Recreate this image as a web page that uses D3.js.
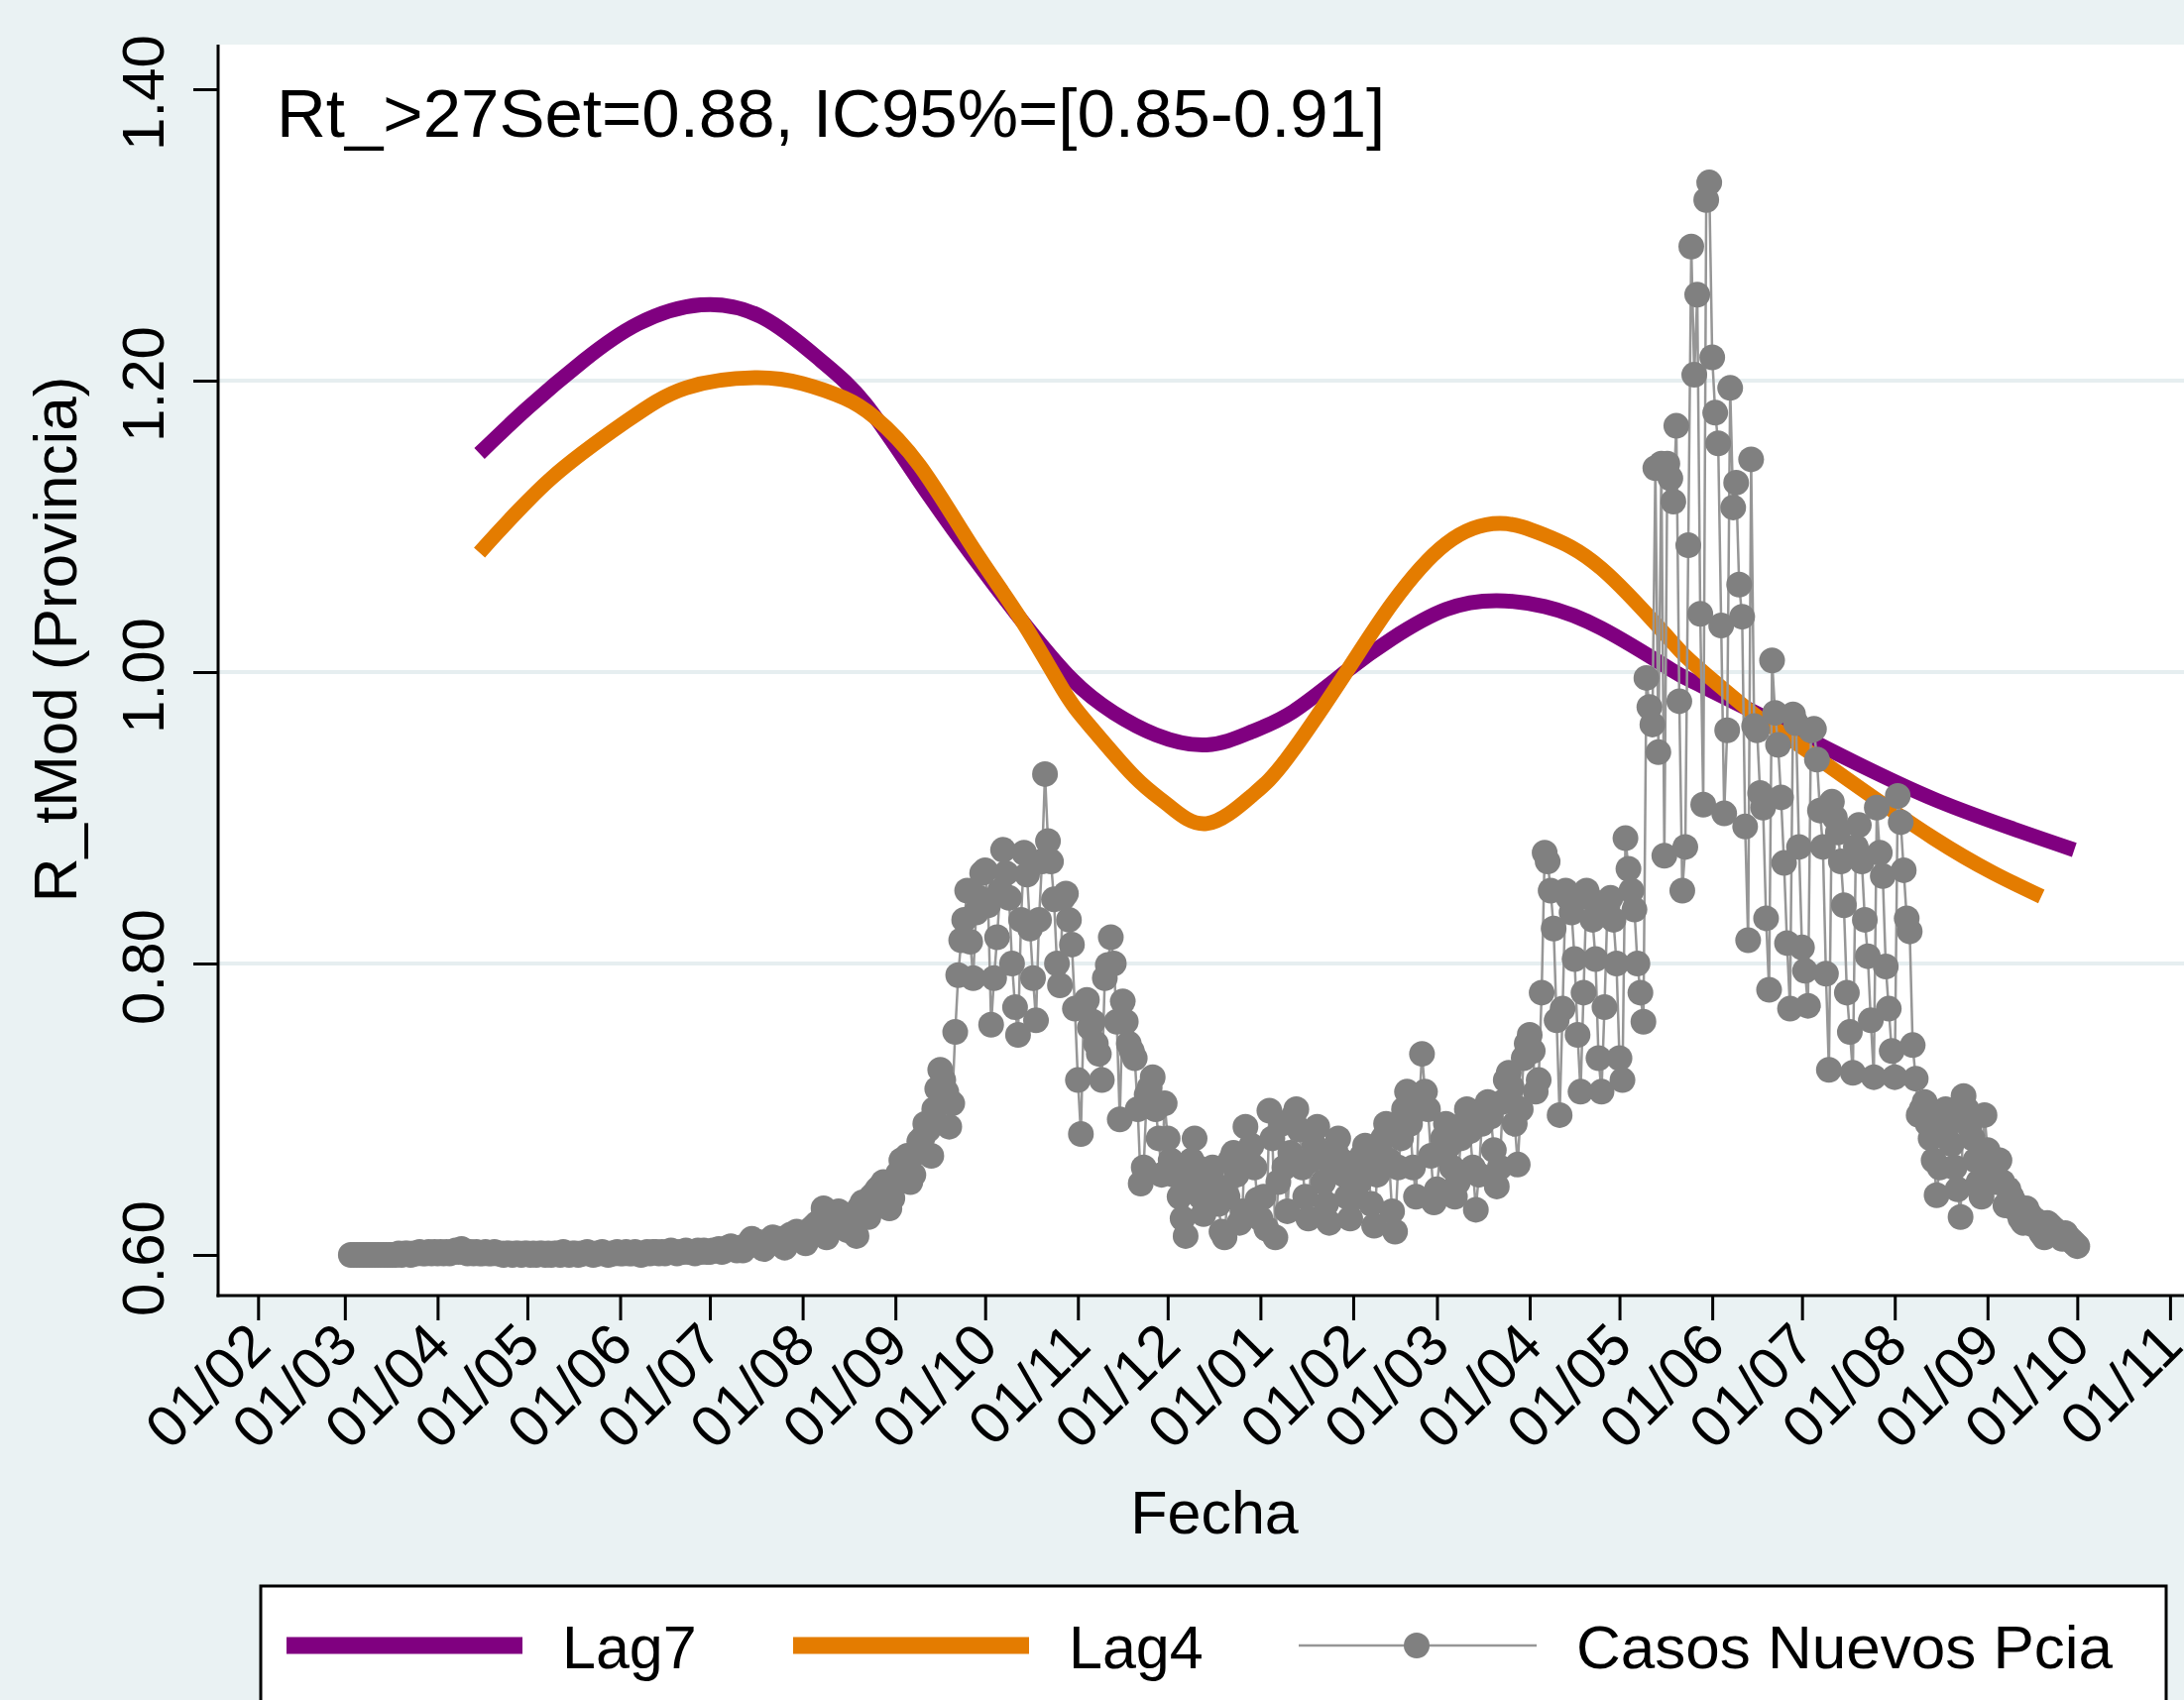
<!DOCTYPE html>
<html lang="es">
<head>
<meta charset="utf-8">
<title>Rt Provincia</title>
<script src="https://cdn.jsdelivr.net/npm/d3@7"></script>
<style>
  body { margin: 0; background: #eaf2f3; }
  text { font-family: "Liberation Sans", Arial, sans-serif; fill: #000; }
</style>
</head>
<body>
<script>
// ---------- datos ----------
var anotacion = "Rt_>27Set=0.88, IC95%=[0.85-0.91]";
var tituloY = "R_tMod (Provincia)";
var tituloX = "Fecha";
var leyenda = ["Lag7", "Lag4", "Casos Nuevos Pcia"];

var ticksY = [0.6, 0.8, 1.0, 1.2, 1.4];
var gridY = [0.8, 1.0, 1.2];
var ticksX = ["2020-02-01","2020-03-01","2020-04-01","2020-05-01","2020-06-01","2020-07-01",
              "2020-08-01","2020-09-01","2020-10-01","2020-11-01","2020-12-01","2021-01-01",
              "2021-02-01","2021-03-01","2021-04-01","2021-05-01","2021-06-01","2021-07-01",
              "2021-08-01","2021-09-01","2021-10-01","2021-11-01"];

var lag7Fechas = ["2020-04-15","2020-05-01","2020-05-20","2020-06-07","2020-06-28","2020-07-19",
                  "2020-08-07","2020-08-22","2020-09-09","2020-09-27","2020-10-13","2020-10-30",
                  "2020-11-13","2020-11-27","2020-12-14","2020-12-29","2021-01-12","2021-01-30",
                  "2021-02-14","2021-03-04","2021-03-21","2021-04-06","2021-04-25","2021-05-18",
                  "2021-05-29","2021-07-06","2021-08-15","2021-09-30"];
var lag7 = [1.150,1.181,1.214,1.239,1.252,1.243,
            1.214,1.184,1.131,1.079,1.036,0.995,
            0.972,0.957,0.950,0.959,0.973,1.001,
            1.023,1.043,1.049,1.045,1.030,1.002,
            0.990,0.951,0.912,0.878];

var lag4Fechas = ["2020-04-15","2020-05-09","2020-06-03","2020-06-23","2020-07-16","2020-08-01",
                  "2020-08-15","2020-08-25","2020-09-09","2020-09-27","2020-10-13","2020-10-27",
                  "2020-11-05","2020-11-20","2020-12-01","2020-12-14","2020-12-29","2021-01-10",
                  "2021-01-30","2021-02-14","2021-03-04","2021-03-22","2021-04-06","2021-04-25",
                  "2021-05-18","2021-05-29","2021-06-15","2021-06-30","2021-08-14","2021-09-19"];
var lag4 = [1.082,1.133,1.172,1.195,1.202,1.198,
            1.188,1.175,1.142,1.085,1.036,0.988,
            0.963,0.928,0.909,0.896,0.915,0.941,
            1.001,1.047,1.088,1.102,1.094,1.071,
            1.022,1.000,0.971,0.950,0.886,0.846];

// casos nuevos (reescalados al eje), un valor por dia desde la fecha de inicio de cada mes
var casosMar20 = [0.600,0.600,0.600,0.600,0.600,0.600,0.600,0.600,0.600,0.600,
                  0.600,0.600,0.600,0.600,0.600,0.600,0.601,0.600,0.601,0.601,
                  0.600,0.601,0.601,0.602,0.601,0.601,0.602,0.601,0.602];
var casosAbr20 = [0.601,0.602,0.601,0.602,0.601,0.602,0.603,0.602,0.604,0.602,
                  0.601,0.602,0.601,0.602,0.601,0.601,0.602,0.601,0.601,0.602,
                  0.601,0.601,0.600,0.601,0.601,0.600,0.601,0.601,0.600,0.601];
var casosMay20 = [0.601,0.600,0.601,0.600,0.601,0.601,0.600,0.601,0.600,0.601,
                  0.601,0.600,0.602,0.601,0.600,0.601,0.601,0.600,0.601,0.601,
                  0.602,0.601,0.600,0.601,0.601,0.602,0.601,0.600,0.601,0.601,0.602];
var casosJun20 = [0.601,0.601,0.602,0.601,0.601,0.602,0.601,0.600,0.601,0.602,
                  0.601,0.602,0.602,0.601,0.602,0.601,0.602,0.603,0.602,0.601,
                  0.602,0.602,0.603,0.602,0.602,0.601,0.603,0.602,0.603,0.602];
var casosJul20 = [0.602,0.603,0.603,0.604,0.602,0.603,0.605,0.606,0.604,0.603,
                  0.605,0.603,0.606,0.608,0.611,0.607,0.609,0.606,0.604,0.608,
                  0.610,0.612,0.609,0.611,0.607,0.605,0.610,0.614,0.612,0.616,0.612];
var casosAgo20 = [0.614,0.608,0.612,0.618,0.620,0.622,0.619,0.632,0.612,0.626,
                  0.624,0.628,0.630,0.626,0.622,0.617,0.624,0.628,0.613,0.632,
                  0.636,0.630,0.626,0.640,0.642,0.645,0.647,0.650,0.642,0.632,0.639];
var casosSep20 = [0.650,0.656,0.665,0.662,0.668,0.650,0.655,0.670,0.678,0.680,
                  0.690,0.686,0.668,0.700,0.714,0.727,0.720,0.712,0.688,0.704,
                  0.753,0.792,0.816,0.830,0.850,0.815,0.790,0.835,0.845,0.862];
var casosOct20 = [0.864,0.840,0.758,0.790,0.818,0.850,0.878,0.862,0.845,0.800,
                  0.770,0.751,0.830,0.876,0.861,0.824,0.790,0.761,0.830,0.870,
                  0.930,0.884,0.870,0.844,0.800,0.785,0.845,0.848,0.830,0.813,0.769];
var casosNov20 = [0.720,0.683,0.770,0.775,0.756,0.760,0.745,0.738,0.720,0.790,
                  0.799,0.818,0.800,0.760,0.693,0.774,0.760,0.745,0.740,0.735,
                  0.700,0.649,0.660,0.710,0.715,0.722,0.700,0.680,0.655,0.704];
var casosDic20 = [0.680,0.665,0.655,0.660,0.640,0.625,0.613,0.650,0.665,0.680,
                  0.660,0.640,0.628,0.645,0.655,0.660,0.648,0.635,0.616,0.612,
                  0.640,0.665,0.670,0.655,0.622,0.630,0.688,0.665,0.675,0.660,0.638];
var casosEne21 = [0.625,0.640,0.618,0.699,0.680,0.612,0.650,0.690,0.660,0.630,
                  0.670,0.695,0.700,0.686,0.660,0.640,0.625,0.665,0.675,0.688,
                  0.670,0.650,0.635,0.622,0.660,0.672,0.680,0.665,0.655,0.640,0.625];
var casosFeb21 = [0.660,0.640,0.650,0.668,0.675,0.660,0.635,0.620,0.655,0.670,
                  0.680,0.690,0.665,0.630,0.616,0.660,0.680,0.700,0.712,0.690,
                  0.660,0.640,0.700,0.738,0.712,0.700,0.668,0.636];
var casosMar21 = [0.645,0.670,0.680,0.690,0.675,0.660,0.640,0.650,0.680,0.690,
                  0.700,0.685,0.660,0.631,0.655,0.690,0.700,0.705,0.695,0.672,
                  0.647,0.660,0.705,0.720,0.725,0.715,0.690,0.662,0.700,0.735,0.745];
var casosAbr21 = [0.751,0.740,0.712,0.720,0.780,0.876,0.870,0.850,0.824,0.761,
                  0.696,0.769,0.850,0.845,0.835,0.803,0.751,0.712,0.780,0.850,
                  0.845,0.830,0.803,0.735,0.712,0.770,0.840,0.845,0.830,0.800];
var casosMay21 = [0.735,0.720,0.886,0.865,0.850,0.837,0.800,0.780,0.760,0.996,
                  0.976,0.964,1.140,0.945,1.143,0.874,1.143,1.133,1.117,1.169,
                  0.980,0.850,0.880,1.087,1.292,1.204,1.259,1.040,0.909,1.324,1.336];
var casosJun21 = [1.216,1.178,1.157,1.032,0.903,0.960,1.195,1.113,1.130,1.060,
                  1.038,0.894,0.816,1.146,0.963,0.960,0.917,0.907,0.831,0.782,
                  1.008,0.972,0.950,0.914,0.869,0.814,0.769,0.971,0.965,0.880];
var casosJul21 = [0.811,0.795,0.771,0.960,0.961,0.940,0.905,0.880,0.793,0.727,
                  0.911,0.900,0.890,0.870,0.840,0.780,0.753,0.725,0.880,0.895,
                  0.870,0.830,0.805,0.761,0.722,0.907,0.876,0.860,0.798,0.769,0.740];
var casosAgo21 = [0.722,0.915,0.897,0.864,0.831,0.822,0.744,0.721,0.696,0.700,
                  0.705,0.690,0.680,0.665,0.641,0.660,0.698,0.700,0.690,0.676,
                  0.660,0.645,0.626,0.709,0.700,0.688,0.680,0.665,0.650,0.640,0.696];
var casosSep21 = [0.672,0.665,0.660,0.650,0.665,0.650,0.634,0.645,0.640,0.636,
                  0.630,0.625,0.622,0.632,0.628,0.621,0.624,0.620,0.615,0.612,
                  0.622,0.620,0.618,0.616,0.614,0.611,0.615,0.612,0.610,0.608,0.606];

var mesesCasos = [["2020-03-03", casosMar20], ["2020-04-01", casosAbr20], ["2020-05-01", casosMay20],
                  ["2020-06-01", casosJun20], ["2020-07-01", casosJul20], ["2020-08-01", casosAgo20],
                  ["2020-09-01", casosSep20], ["2020-10-01", casosOct20], ["2020-11-01", casosNov20],
                  ["2020-12-01", casosDic20], ["2021-01-01", casosEne21], ["2021-02-01", casosFeb21],
                  ["2021-03-01", casosMar21], ["2021-04-01", casosAbr21], ["2021-05-01", casosMay21],
                  ["2021-06-01", casosJun21], ["2021-07-01", casosJul21], ["2021-08-01", casosAgo21],
                  ["2021-09-01", casosSep21]];

// ---------- armado ----------
var W = 2203, H = 1715;
var plotL = 220, plotR = 2203, plotT = 45, plotB = 1307;
var parse = d3.utcParse("%Y-%m-%d");

var casos = [];
mesesCasos.forEach(function(m) {
  var d0 = parse(m[0]);
  m[1].forEach(function(v, i) {
    casos.push({fecha: d3.utcDay.offset(d0, i), v: v});
  });
});
var serie7 = lag7Fechas.map(function(f, i) { return {fecha: parse(f), v: lag7[i]}; });
var serie4 = lag4Fechas.map(function(f, i) { return {fecha: parse(f), v: lag4[i]}; });

var x = d3.scaleUtc()
          .domain([parse("2020-02-01"), parse("2021-11-01")])
          .range([260.3, 2188.9]);
var y = d3.scaleLinear()
          .domain([0.6, 1.4])
          .range([1266, 90]);

var svg = d3.select("body").append("svg")
            .attr("width", W)
            .attr("height", H)
            .style("display", "block");

svg.append("rect").attr("width", W).attr("height", H).attr("fill", "#eaf2f3");
svg.append("rect")
   .attr("x", plotL).attr("y", plotT)
   .attr("width", plotR - plotL).attr("height", plotB - plotT)
   .attr("fill", "#ffffff");

// grilla
svg.selectAll("line.grid")
   .data(gridY)
   .enter().append("line")
   .attr("class", "grid")
   .attr("x1", plotL).attr("x2", plotR)
   .attr("y1", function(d) { return y(d); })
   .attr("y2", function(d) { return y(d); })
   .attr("stroke", "#e6eef0")
   .attr("stroke-width", 4);

// curvas Rt
var linea = d3.line()
              .x(function(d) { return x(d.fecha); })
              .y(function(d) { return y(d.v); })
              .curve(d3.curveNatural);

svg.append("path").datum(serie7)
   .attr("d", linea)
   .attr("fill", "none")
   .attr("stroke", "#800080")
   .attr("stroke-width", 15);
svg.append("path").datum(serie4)
   .attr("d", linea)
   .attr("fill", "none")
   .attr("stroke", "#e47c00")
   .attr("stroke-width", 15);

// casos nuevos
var lineaCasos = d3.line()
                   .x(function(d) { return x(d.fecha); })
                   .y(function(d) { return y(d.v); });
svg.append("path").datum(casos)
   .attr("d", lineaCasos)
   .attr("fill", "none")
   .attr("stroke", "#969696")
   .attr("stroke-width", 2.5);
svg.selectAll("circle.caso")
   .data(casos)
   .enter().append("circle")
   .attr("class", "caso")
   .attr("cx", function(d) { return x(d.fecha); })
   .attr("cy", function(d) { return y(d.v); })
   .attr("r", 13)
   .attr("fill", "#808080");

// ejes
var ejeY = svg.append("g")
              .attr("transform", "translate(" + plotL + ",0)")
              .call(d3.axisLeft(y).tickValues(ticksY).tickSize(25).tickSizeOuter(0)
                      .tickFormat(d3.format(".2f")));
ejeY.select(".domain").remove();
ejeY.selectAll(".tick line").attr("stroke", "#000").attr("stroke-width", 3);
ejeY.selectAll(".tick text")
    .attr("x", null).attr("dy", null)
    .attr("text-anchor", "middle")
    .attr("transform", "translate(-55,3) rotate(-90)")
    .style("font-size", "60px")
    .style("font-family", "'Liberation Sans', Arial, sans-serif")
    .attr("fill", "#000");

var ejeX = svg.append("g")
              .attr("transform", "translate(0," + plotB + ")")
              .call(d3.axisBottom(x).tickValues(ticksX.map(parse)).tickSize(25).tickSizeOuter(0)
                      .tickFormat(d3.utcFormat("%d/%m")));
ejeX.select(".domain").remove();
ejeX.selectAll(".tick line").attr("stroke", "#000").attr("stroke-width", 3);
ejeX.selectAll(".tick text")
    .attr("y", null).attr("dy", "0.36em")
    .attr("text-anchor", "end")
    .attr("transform", "translate(0,38) rotate(-45)")
    .style("font-size", "59px")
    .style("font-family", "'Liberation Sans', Arial, sans-serif")
    .attr("fill", "#000");

svg.append("line")
   .attr("x1", plotL).attr("x2", plotL)
   .attr("y1", plotT).attr("y2", plotB + 1.5)
   .attr("stroke", "#000").attr("stroke-width", 3);
svg.append("line")
   .attr("x1", plotL - 1.5).attr("x2", plotR)
   .attr("y1", plotB).attr("y2", plotB)
   .attr("stroke", "#000").attr("stroke-width", 3);

// textos
svg.append("text")
   .attr("x", 279).attr("y", 138)
   .style("font-size", "69px")
   .text(anotacion);
svg.append("text")
   .attr("transform", "translate(77,645) rotate(-90)")
   .attr("text-anchor", "middle")
   .style("font-size", "62px")
   .text(tituloY);
svg.append("text")
   .attr("x", 1225).attr("y", 1547)
   .attr("text-anchor", "middle")
   .style("font-size", "61px")
   .text(tituloX);

// leyenda
var ley = svg.append("g");
ley.append("rect")
   .attr("x", 263).attr("y", 1600)
   .attr("width", 1922).attr("height", 200)
   .attr("fill", "#fff").attr("stroke", "#000").attr("stroke-width", 3);
ley.append("line").attr("x1", 289).attr("x2", 527).attr("y1", 1660).attr("y2", 1660)
   .attr("stroke", "#800080").attr("stroke-width", 17);
ley.append("line").attr("x1", 800).attr("x2", 1038).attr("y1", 1660).attr("y2", 1660)
   .attr("stroke", "#e47c00").attr("stroke-width", 17);
ley.append("line").attr("x1", 1310).attr("x2", 1550).attr("y1", 1660).attr("y2", 1660)
   .attr("stroke", "#969696").attr("stroke-width", 2.5);
ley.append("circle").attr("cx", 1429).attr("cy", 1660).attr("r", 13).attr("fill", "#808080");
ley.selectAll("text.ley")
   .data(leyenda)
   .enter().append("text")
   .attr("class", "ley")
   .attr("x", function(d, i) { return [567, 1078, 1590][i]; })
   .attr("y", 1683)
   .style("font-size", function(d, i) { return i === 2 ? "62px" : "61px"; })
   .text(function(d) { return d; });
</script>
</body>
</html>
